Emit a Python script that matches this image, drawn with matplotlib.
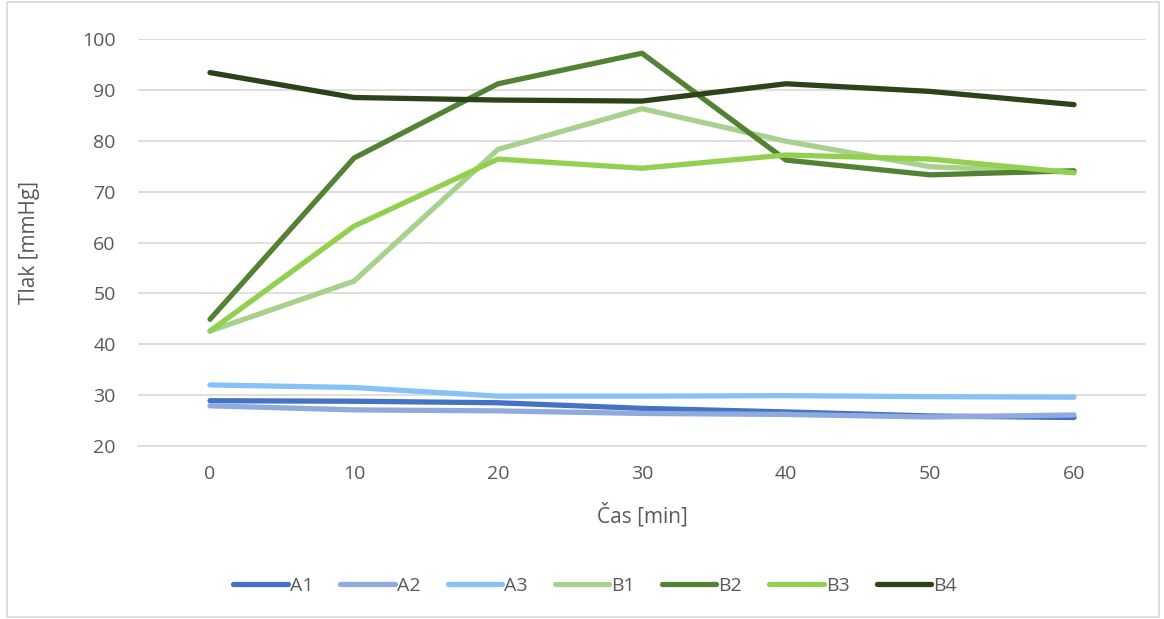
import matplotlib.pyplot as plt
from matplotlib.patches import Rectangle

cas = [0, 10, 20, 30, 40, 50, 60]

a1 = [28.9, 28.8, 28.5, 27.4, 26.7, 25.9, 25.6]
a2 = [27.9, 27.1, 26.9, 26.4, 26.2, 25.7, 26.1]
a3 = [32.0, 31.5, 29.8, 29.8, 29.9, 29.7, 29.6]
b1 = [42.6, 52.4, 78.3, 86.3, 79.9, 74.9, 73.8]
b2 = [44.9, 76.6, 91.2, 97.2, 76.2, 73.3, 74.1]
b3 = [42.6, 63.2, 76.4, 74.6, 77.2, 76.4, 73.7]
b4 = [93.4, 88.5, 88.0, 87.8, 91.2, 89.7, 87.1]

series = [("A1", a1), ("A2", a2), ("A3", a3),
          ("B1", b1), ("B2", b2), ("B3", b3), ("B4", b4)]
colors = ["#4472C4", "#8FAADC", "#86C1F8",
          "#A9D18E", "#548235", "#92D050", "#2A4319"]

plt.rcParams['font.family'] = ['Open Sans', 'DejaVu Sans']

fig = plt.figure(figsize=(11.64, 6.19), dpi=100)
ax = fig.add_axes([138 / 1164, 1 - 446 / 619, 1008 / 1164, 407 / 619])

x = list(range(len(cas)))
for (name, vals), col in zip(series, colors):
    ax.plot(x, vals, color=col, lw=3.8, label=name,
            solid_capstyle='round', solid_joinstyle='round')

ax.set_xlim(-0.5, len(cas) - 0.5)
ax.set_ylim(20, 100)
ax.set_yticks(range(20, 101, 10))
ax.set_xticks(x)
ax.set_xticklabels([str(c) for c in cas])
ax.grid(axis='y', color='#D9D9D9', lw=1.2)
ax.set_axisbelow(True)
for s in ['top', 'right', 'left']:
    ax.spines[s].set_visible(False)
ax.spines['bottom'].set_color('#D9D9D9')
ax.spines['bottom'].set_linewidth(1.2)
ax.tick_params(length=0, labelsize=14, colors='#595959')
ax.tick_params(axis='y', pad=16)
ax.tick_params(axis='x', pad=14)

ax.set_xlabel("Čas [min]", fontsize=15, color='#595959', labelpad=14)
ax.set_ylabel("Tlak [mmHg]", fontsize=15, color='#595959', labelpad=30)

leg = fig.legend(loc='center', bbox_to_anchor=(595 / 1164, 1 - 586 / 619),
                 ncol=7, frameon=False, fontsize=14, handlelength=2.8,
                 handletextpad=0.1, columnspacing=1.4)
for t in leg.get_texts():
    t.set_color('#595959')
for h in leg.get_lines():
    h.set_linewidth(3.8)

fig.patches.append(Rectangle((0.006, 0.004), 0.99, 0.992, transform=fig.transFigure,
                             fill=False, edgecolor='#D9D9D9', lw=1.2))

fig.savefig("out.png", dpi=100)
